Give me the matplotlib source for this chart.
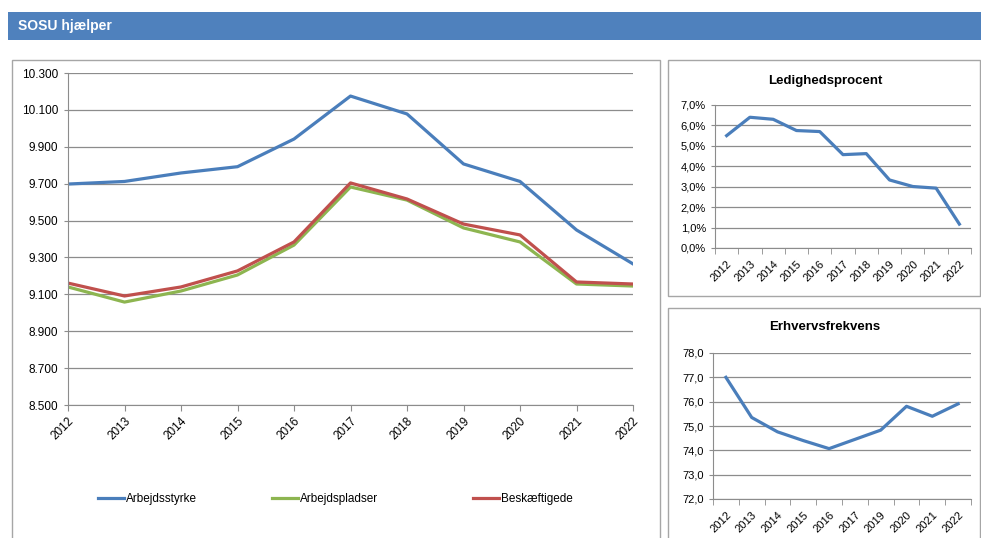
import matplotlib.pyplot as plt
from matplotlib.patches import Rectangle
from matplotlib.lines import Line2D
from matplotlib.ticker import FuncFormatter

plt.rcParams["font.family"] = ["Liberation Sans", "DejaVu Sans"]

# data
years = ['2012', '2013', '2014', '2015', '2016', '2017', '2018', '2019', '2020', '2021', '2022']
arbejdsstyrke = [9698, 9712, 9758, 9792, 9942, 10175, 10078, 9807, 9712, 9449, 9265]
arbejdspladser = [9140, 9058, 9118, 9205, 9367, 9682, 9611, 9460, 9384, 9156, 9145]
beskaeftigede = [9161, 9091, 9140, 9227, 9384, 9704, 9617, 9481, 9422, 9167, 9156]

led_years = years
ledighed = [5.5, 6.4, 6.3, 5.75, 5.7, 4.57, 4.62, 3.33, 3.01, 2.93, 1.17]

erh_years = ['2012', '2013', '2014', '2015', '2016', '2017', '2019', '2020', '2021', '2022']
erhverv = [77.0, 75.35, 74.76, 74.4, 74.07, 74.45, 74.83, 75.81, 75.4, 75.91]

labels = ['Arbejdsstyrke', 'Arbejdspladser', 'Beskæftigede']
colors = ['#4A7EBB', '#8DB550', '#C0504D']
grid_c = '#8C8C8C'
W, H = 981, 538


def px_axes(fig, l, t, r, b):
    return fig.add_axes([l / W, 1 - b / H, (r - l) / W, (b - t) / H])


fig = plt.figure(figsize=(W / 100, H / 100), dpi=100)

# header band
fig.add_artist(Rectangle((8 / W, 1 - 40 / H), (W - 8) / W, 28 / H, transform=fig.transFigure,
                         facecolor='#4F81BD', edgecolor='none'))
fig.text(18 / W, 1 - 26 / H, 'SOSU hjælper', color='white', fontsize=10, fontweight='bold', va='center')

# panel borders
for l, t, r, b in [(12, 60, 660, 560), (668, 60, 980, 296), (668, 308, 980, 560)]:
    fig.add_artist(Rectangle((l / W, 1 - b / H), (r - l) / W, (b - t) / H, transform=fig.transFigure,
                             facecolor='none', edgecolor='#A6A6A6', lw=1))

# main chart
ax = px_axes(fig, 68, 73, 633, 405)
x = list(range(len(years)))
for y, lab, c in zip([arbejdsstyrke, arbejdspladser, beskaeftigede], labels, colors):
    ax.plot(x, y, color=c, lw=2.3, label=lab, solid_joinstyle='round')
ax.set_xlim(0, len(years) - 1)
ax.set_ylim(8500, 10300)
ax.set_yticks(range(8500, 10301, 200))
ax.yaxis.set_major_formatter(FuncFormatter(lambda v, p: f'{int(v):,}'.replace(',', '.')))
ax.set_xticks(x)
ax.set_xticklabels(years, rotation=45, ha='right', rotation_mode='anchor')
ax.grid(axis='y', color=grid_c, lw=0.9)
ax.set_axisbelow(True)
for s in ['top', 'right']:
    ax.spines[s].set_visible(False)
for s in ['left', 'bottom']:
    ax.spines[s].set_color('#8C8C8C')
ax.tick_params(axis='both', colors='#8C8C8C', labelcolor='black', labelsize=8.5, length=4)
ax.tick_params(axis='y', length=3, pad=4)

# legend entries
handles = ax.get_lines()
for h, lx in zip(handles, [98, 272, 473]):
    fig.legend([Line2D([], [], color=h.get_color(), lw=2.3)], [h.get_label()],
               loc='center left', bbox_to_anchor=(lx / W, 1 - 499 / H), frameon=False,
               fontsize=8.5, handlelength=2.2, handletextpad=0.2, borderpad=0, borderaxespad=0)


def small_chart(ax, cats, vals, ylim, step, fmt, title, title_y):
    xs = list(range(len(cats)))
    ax.plot(xs, vals, color='#4A7EBB', lw=2.3, solid_joinstyle='round')
    ax.set_xlim(-0.5, len(cats) - 0.5)
    ax.set_ylim(*ylim)
    n = int(round((ylim[1] - ylim[0]) / step))
    ax.set_yticks([ylim[0] + i * step for i in range(n + 1)])
    ax.yaxis.set_major_formatter(FuncFormatter(fmt))
    ax.set_xticks(xs)
    ax.set_xticklabels(cats, rotation=45, ha='right', rotation_mode='anchor')
    ax.set_xticks([i - 0.5 for i in range(len(cats) + 1)], minor=True)
    ax.tick_params(axis='x', which='major', length=0, pad=8)
    ax.tick_params(axis='x', which='minor', length=4, color='#8C8C8C')
    ax.tick_params(axis='y', length=3, color='#8C8C8C')
    ax.tick_params(labelsize=8)
    ax.grid(axis='y', color=grid_c, lw=0.9)
    ax.set_axisbelow(True)
    for s in ['top', 'right']:
        ax.spines[s].set_visible(False)
    for s in ['left', 'bottom']:
        ax.spines[s].set_color('#8C8C8C')
    fig.text(825 / W, 1 - title_y / H, title, fontsize=9.5, fontweight='bold', ha='center', va='center')


ax2 = px_axes(fig, 715, 105, 971, 248)
small_chart(ax2, led_years, ledighed, (0, 7), 1, lambda v, p: f'{v:.1f}%'.replace('.', ','),
            'Ledighedsprocent', 81)

ax3 = px_axes(fig, 713, 353, 971, 499)
small_chart(ax3, erh_years, erhverv, (72, 78), 1, lambda v, p: f'{v:.1f}'.replace('.', ','),
            'Erhvervsfrekvens', 327)

fig.savefig('out.png', dpi=100)
